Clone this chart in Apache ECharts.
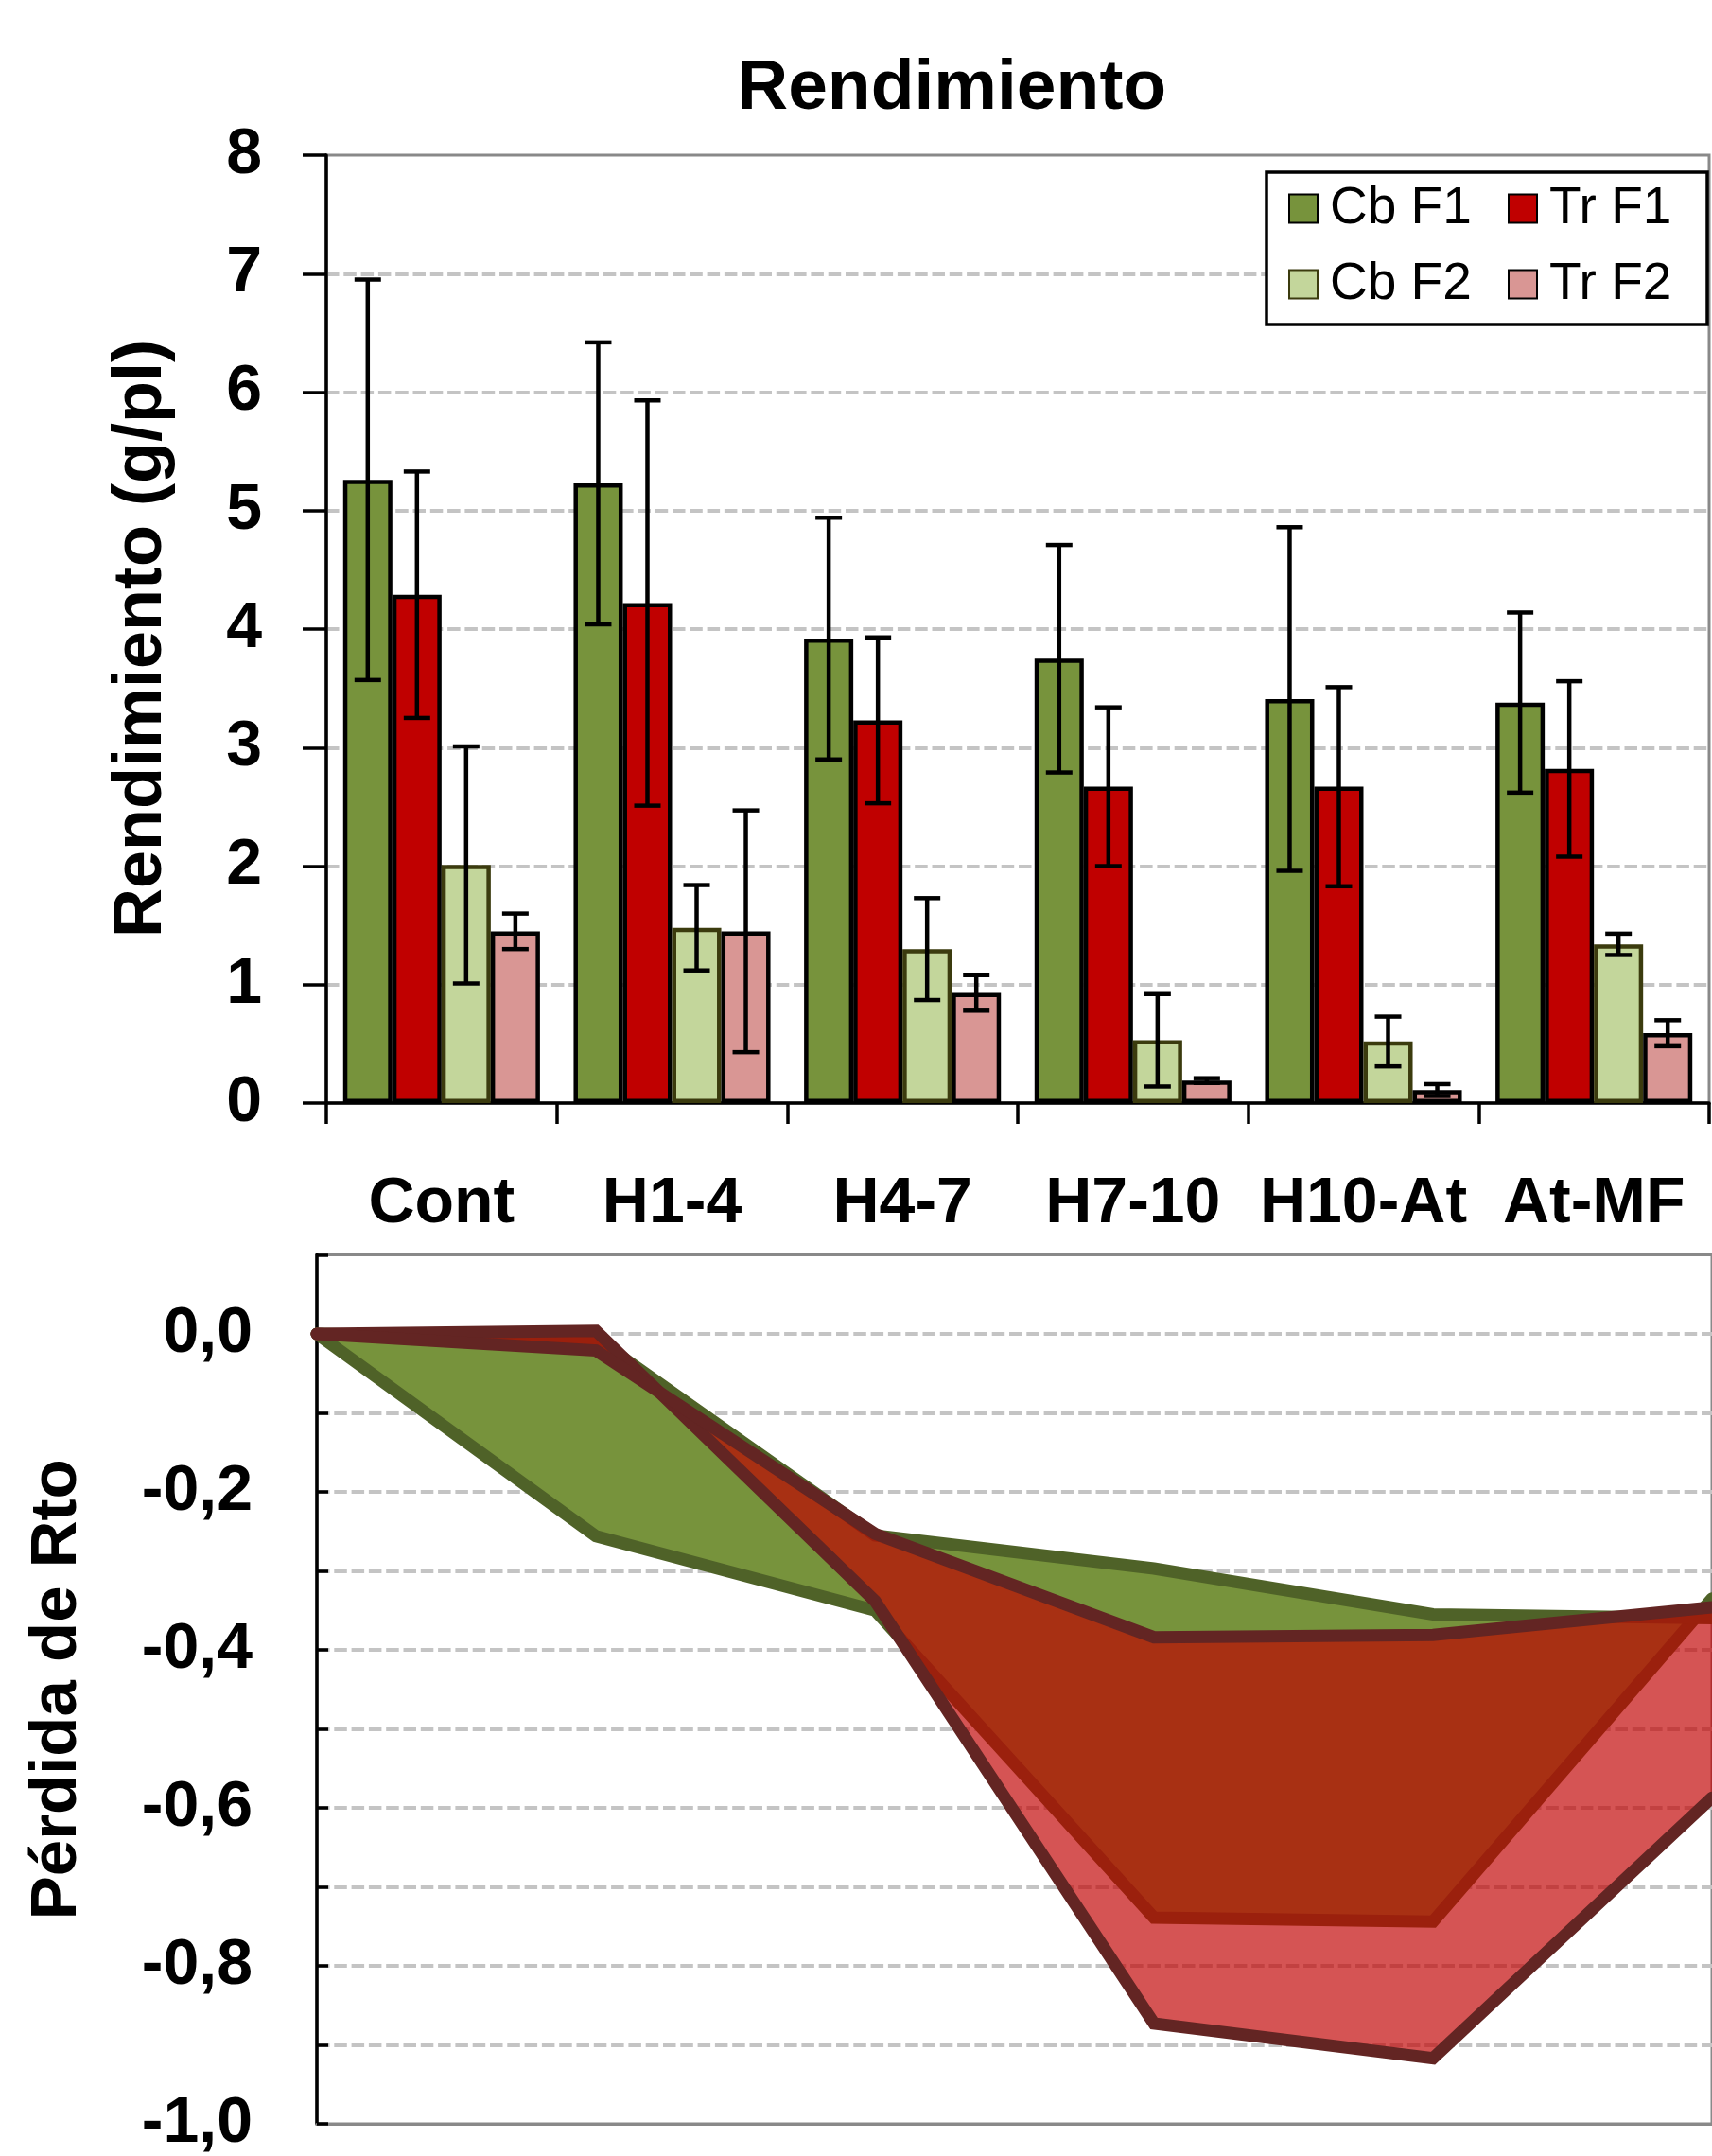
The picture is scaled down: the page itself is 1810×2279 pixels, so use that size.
<!DOCTYPE html>
<html>
<head>
<meta charset="utf-8">
<script src="https://cdn.jsdelivr.net/npm/echarts@6/dist/echarts.min.js"></script>
<style>
html,body{margin:0;padding:0;background:#fff;}
#chart{width:1810px;height:2279px;}
</style>
</head>
<body>
<div id="chart"></div>
<script>
// ---------- data ----------
const categories = ['Cont', 'H1-4', 'H4-7', 'H7-10', 'H10-At', 'At-MF'];
const seriesNames = ['Cb F1', 'Tr F1', 'Cb F2', 'Tr F2'];

// Rendimiento (g/pl) - bar heights
const cbF1 = [5.26, 5.23, 3.92, 3.75, 3.41, 3.38];
const trF1 = [4.29, 4.22, 3.23, 2.67, 2.67, 2.82];
const cbF2 = [2.01, 1.48, 1.30, 0.53, 0.52, 1.34];
const trF2 = [1.45, 1.45, 0.93, 0.19, 0.11, 0.59];

// error bar half-widths
const cbF1Err = [1.69, 1.19, 1.02, 0.96, 1.45, 0.76];
const trF1Err = [1.04, 1.71, 0.70, 0.67, 0.84, 0.74];
const cbF2Err = [1.00, 0.36, 0.43, 0.39, 0.21, 0.09];
const trF2Err = [0.15, 1.02, 0.15, 0.02, 0.05, 0.11];

// Pérdida de Rto (relative yield loss)
const lossCbF1 = [0, -0.006, -0.255, -0.297, -0.355, -0.360];
const lossCbF2 = [0, -0.256, -0.350, -0.739, -0.744, -0.335];
const lossTrF1 = [0, -0.021, -0.253, -0.384, -0.381, -0.346];
const lossTrF2 = [0, 0.004, -0.338, -0.873, -0.917, -0.587];

const lossMajorTicks = [-1.0, -0.8, -0.6, -0.4, -0.2, 0.0];

// ---------- styling ----------
const FONT = "'Liberation Sans', Arial, sans-serif";
const CAT_GAP = 0.146;
const barColors = ['#77933C', '#C00000', '#C3D69B', '#D99694'];
const barBorders = ['#000000', '#000000', '#3B3B0E', '#000000'];
const barValues = [cbF1, trF1, cbF2, trF2];
const barErrs = [cbF1Err, trF1Err, cbF2Err, trF2Err];

const dashGrid = { show: true, showMinLine: false, showMaxLine: false,
  lineStyle: { color: '#C4C4C4', width: 4, type: [13.5, 4.8] } };

function errRender(k) {
  return function (params, api) {
    const ci = api.value(0), v = api.value(1), e = api.value(2);
    const c = api.coord([ci, v]);
    const hi = api.coord([ci, v + e]);
    const lo = api.coord([ci, v - e]);
    const bw = api.size([1, 0])[0] * (1 - CAT_GAP) / 4;
    const x = c[0] + (k - 1.5) * bw;
    const hw = 14;
    const st = { stroke: '#000', lineWidth: 4.5 };
    return {
      type: 'group',
      children: [
        { type: 'line', shape: { x1: x, y1: hi[1], x2: x, y2: lo[1] }, style: st },
        { type: 'line', shape: { x1: x - hw, y1: hi[1], x2: x + hw, y2: hi[1] }, style: st },
        { type: 'line', shape: { x1: x - hw, y1: lo[1], x2: x + hw, y2: lo[1] }, style: st }
      ]
    };
  };
}

const series = [];
seriesNames.forEach((n, k) => {
  series.push({
    type: 'bar', name: n, xAxisIndex: 0, yAxisIndex: 0,
    data: barValues[k],
    barGap: '0%', barCategoryGap: (CAT_GAP * 100) + '%',
    itemStyle: { color: barColors[k], borderColor: barBorders[k], borderWidth: 4.5 },
    silent: true
  });
});
seriesNames.forEach((n, k) => {
  series.push({
    type: 'custom', name: n + ' err', xAxisIndex: 0, yAxisIndex: 0, z: 5, silent: true,
    data: categories.map((c, i) => [i, barValues[k][i], barErrs[k][i]]),
    encode: { x: 0, y: 1 },
    renderItem: errRender(k)
  });
});

const lineCommon = {
  type: 'line', xAxisIndex: 1, yAxisIndex: 1, symbol: 'none', showSymbol: false,
  stackStrategy: 'all', clip: false, silent: true
};
series.push(Object.assign({}, lineCommon, {
  name: 'Pérdida Cb F1', stack: 'cb', data: lossCbF1, z: 3,
  lineStyle: { color: '#4F6228', width: 13, cap: 'round', join: 'miter' }
}));
series.push(Object.assign({}, lineCommon, {
  name: 'Pérdida Cb F2', stack: 'cb', data: lossCbF2.map((v, i) => v - lossCbF1[i]), z: 2,
  areaStyle: { color: '#77933C', opacity: 1 },
  lineStyle: { color: '#4F6228', width: 13, cap: 'round', join: 'miter' }
}));
series.push(Object.assign({}, lineCommon, {
  name: 'Pérdida Tr F1', stack: 'tr', data: lossTrF1, z: 5,
  lineStyle: { color: '#632523', width: 13, cap: 'round', join: 'miter' }
}));
series.push(Object.assign({}, lineCommon, {
  name: 'Pérdida Tr F2', stack: 'tr', data: lossTrF2.map((v, i) => v - lossTrF1[i]), z: 4,
  areaStyle: { color: 'rgba(192,0,0,0.67)', opacity: 1 },
  lineStyle: { color: '#632523', width: 13, cap: 'round', join: 'miter' }
}));

const boldLabel = { color: '#000', fontFamily: FONT, fontWeight: 'bold', fontSize: 68 };

const option = {
  backgroundColor: '#fff',
  animation: false,
  title: {
    text: 'Rendimiento', left: 779, top: 57, padding: 0,
    textStyle: { color: '#000', fontFamily: FONT, fontWeight: 'bold', fontSize: 75 }
  },
  legend: {
    data: seriesNames, left: 1339, top: 182, width: 440, orient: 'horizontal',
    itemWidth: 30, itemHeight: 30, itemGap: 25, icon: 'rect',
    padding: [11, 4, 15, 23], borderColor: '#000', borderWidth: 3.5, backgroundColor: '#fff',
    selectedMode: false,
    textStyle: { color: '#000', fontFamily: FONT, fontSize: 55, width: 163, lineHeight: 53.5,
      padding: [0, 0, 0, 8] }
  },
  grid: [
    { left: 345, right: 3, top: 164, bottom: 1113, show: true, borderColor: '#898989', borderWidth: 3 },
    { left: 335, right: -5, top: 1326.5, bottom: 29.3, show: true, borderColor: '#898989', borderWidth: 3 }
  ],
  xAxis: [
    {
      type: 'category', gridIndex: 0, data: categories,
      axisLine: { show: true, onZero: false, lineStyle: { color: '#000', width: 3.5 } },
      axisTick: { show: true, length: 22, lineStyle: { color: '#000', width: 3.5 } },
      axisLabel: Object.assign({ margin: 73, interval: 0 }, boldLabel),
      splitLine: { show: false }
    },
    {
      type: 'category', gridIndex: 1, data: categories, boundaryGap: false,
      axisLine: { show: true, onZero: false, lineStyle: { color: '#898989', width: 3 } },
      axisTick: { show: false }, axisLabel: { show: false }, splitLine: { show: false }
    }
  ],
  yAxis: [
    {
      type: 'value', gridIndex: 0, min: 0, max: 8, interval: 1,
      name: 'Rendimiento (g/pl)', nameLocation: 'middle', nameGap: 159,
      nameTextStyle: { color: '#000', fontFamily: FONT, fontWeight: 'bold', fontSize: 72,
        padding: [0, 20, 0, 0] },
      axisLine: { show: true, lineStyle: { color: '#000', width: 3.5 } },
      axisTick: { show: true, length: 25, lineStyle: { color: '#000', width: 3.5 } },
      axisLabel: Object.assign({ margin: 68 }, boldLabel),
      splitLine: dashGrid
    },
    {
      type: 'value', gridIndex: 1, min: -1, max: 0.1, interval: 0.1,
      name: 'Pérdida de Rto', nameLocation: 'middle', nameGap: 240,
      nameTextStyle: { color: '#000', fontFamily: FONT, fontWeight: 'bold', fontSize: 69 },
      axisLine: { show: true, lineStyle: { color: '#000', width: 3.5 } },
      axisTick: { show: true, inside: true, length: 12, lineStyle: { color: '#000', width: 3.5 } },
      axisLabel: Object.assign({
        margin: 68,
        formatter: function (v) {
          const k = Math.round(v * 10);
          if (k % 2 !== 0) return '';
          return (k / 10).toFixed(1).replace('.', ',');
        }
      }, boldLabel),
      splitLine: dashGrid
    },
    {
      type: 'value', gridIndex: 1, min: -1, max: 0.1, interval: 0.1,
      axisLine: { show: false },
      axisTick: { show: true, inside: false, length: 25, customValues: lossMajorTicks,
        lineStyle: { color: '#000', width: 3.5 } },
      axisLabel: { show: false }, splitLine: { show: false }
    }
  ],
  series: series
};

const chart = echarts.init(document.getElementById('chart'), null, { renderer: 'canvas' });
chart.setOption(option);
</script>
</body>
</html>
